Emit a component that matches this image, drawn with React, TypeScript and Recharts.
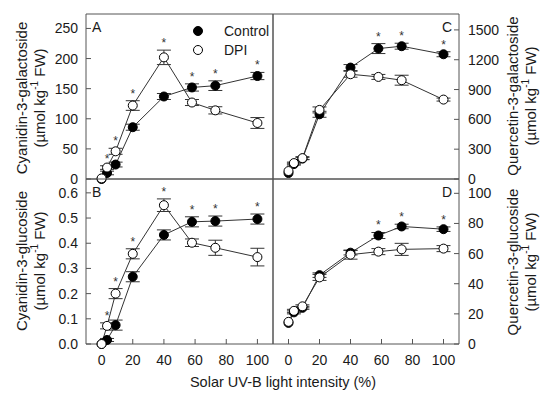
import {
  ComposedChart,
  Line,
  Scatter,
  XAxis,
  YAxis,
  ErrorBar,
  ReferenceArea,
  Legend,
} from "recharts";

// UV-B levels (% of solar)
const uvLevels = [0, 3.5, 9, 20, 40, 58, 73, 100];
const xTicks = [0, 20, 40, 60, 80, 100];

// A: cyanidin-3-galactoside
const cyaGalControl = [0, 10, 24, 86, 137, 152, 155, 171];
const cyaGalControlErr = [0, 3, 4, 5, 5, 6, 8, 6];
const cyaGalDpi = [1, 19, 46, 122, 202, 127, 114, 93];
const cyaGalDpiErr = [0, 3, 5, 8, 12, 5, 6, 9];
const cyaGalSig = [1, 2, 3, 4, 5, 6, 7];
const cyaGalTicks = [0, 50, 100, 150, 200, 250];

// B: cyanidin-3-glucoside
const cyaGluControl = [0, 0.016, 0.075, 0.267, 0.433, 0.485, 0.488, 0.496];
const cyaGluControlErr = [0, 0.006, 0.02, 0.02, 0.02, 0.02, 0.02, 0.02];
const cyaGluDpi = [0, 0.072, 0.2, 0.358, 0.551, 0.402, 0.382, 0.345];
const cyaGluDpiErr = [0, 0.012, 0.02, 0.02, 0.025, 0.015, 0.03, 0.035];
const cyaGluSig = [1, 2, 3, 4, 5, 6, 7];
const cyaGluTicks = [0, 0.1, 0.2, 0.3, 0.4, 0.5, 0.6];

// C: quercetin-3-galactoside
const queGalControl = [60, 150, 205, 651, 1121, 1312, 1336, 1255];
const queGalControlErr = [0, 10, 10, 30, 30, 50, 30, 25];
const queGalDpi = [80, 160, 210, 695, 1054, 1027, 994, 799];
const queGalDpiErr = [0, 10, 15, 30, 30, 25, 50, 15];
const queGalSig = [5, 6, 7];
const queGalTicks = [0, 300, 600, 900, 1200, 1500];

// D: quercetin-3-glucoside
const queGluControl = [14, 21, 24, 45.7, 60.6, 72, 78, 76.2];
const queGluControlErr = [0, 1, 1, 1.5, 1.5, 2, 1.5, 1.5];
const queGluDpi = [14.7, 22, 25, 44.2, 59.3, 61.3, 62.8, 63.3];
const queGluDpiErr = [0, 1, 1, 2, 3, 2, 4, 2];
const queGluSig = [5, 6, 7];
const queGluTicks = [0, 20, 40, 60, 80, 100];

const FONT = "'Liberation Sans', Arial, Helvetica, sans-serif";
const FRAME = "#555";
const LINE = "#333";
const TEXT = "#1a1a1a";

const buildRows = (c: number[], ce: number[], d: number[], de: number[]) =>
  uvLevels.map((x, i) => ({
    x,
    control: c[i],
    controlErr: ce[i],
    dpi: d[i],
    dpiErr: de[i],
  }));

const buildStars = (
  sig: number[],
  c: number[],
  ce: number[],
  d: number[],
  de: number[]
) => sig.map((i) => ({ x: uvLevels[i], y: Math.max(c[i] + ce[i], d[i] + de[i]) }));

const Star = (props: any) => (
  <text
    x={props.cx}
    y={props.cy - 3}
    textAnchor="middle"
    fontSize={12}
    fontFamily={FONT}
    fill={LINE}
  >
    *
  </text>
);

const filledDot = { r: 4.5, fill: "#000", stroke: "#000", strokeWidth: 1 };
const openDot = { r: 4.5, fill: "#fff", stroke: "#000", strokeWidth: 1 };

const yTitle = (cx: number, cy: number, name: string) => () =>
  (
    <g fontFamily={FONT} fontSize={15} fill={TEXT}>
      <text
        x={cx}
        y={cy}
        transform={`rotate(-90 ${cx} ${cy})`}
        textAnchor="middle"
        dominantBaseline="central"
      >
        {name}
      </text>
      <text
        x={cx + 18}
        y={cy}
        transform={`rotate(-90 ${cx + 18} ${cy})`}
        textAnchor="middle"
        dominantBaseline="central"
      >
        (µmol kg
        <tspan dy={-5} fontSize={10}>
          -1
        </tspan>
        <tspan dy={5}> FW)</tspan>
      </text>
    </g>
  );

const renderLegend = () => (
  <div style={{ fontFamily: FONT, fontSize: 14, color: TEXT }}>
    {[
      { name: "Control", dot: filledDot },
      { name: "DPI", dot: openDot },
    ].map((item) => (
      <div
        key={item.name}
        style={{ display: "flex", alignItems: "center", height: 19 }}
      >
        <svg width={12} height={12}>
          <circle cx={6} cy={6} {...item.dot} />
        </svg>
        <span style={{ marginLeft: 20 }}>{item.name}</span>
      </div>
    ))}
  </div>
);

interface PanelProps {
  rows: any[];
  stars: { x: number; y: number }[];
  yMax: number;
  yTicks: number[];
  side: "left" | "right";
  top: boolean;
  letter: string;
  title: string;
  titleCy: number;
  fmt?: (v: number) => string;
  legend?: boolean;
}

const Panel = ({
  rows,
  stars,
  yMax,
  yTicks,
  side,
  top,
  letter,
  title,
  titleCy,
  fmt,
  legend,
}: PanelProps) => {
  const margin = {
    top: top ? 14 : 179,
    bottom: top ? 189 : 24,
    left: side === "left" ? 46 : 273,
    right: side === "left" ? 277 : 51,
  };
  const letterProps =
    side === "left"
      ? { x: 92, textAnchor: "start" as const }
      : { x: 452, textAnchor: "end" as const };
  return (
    <div style={{ position: "absolute", left: 0, top: 0 }}>
      <ComposedChart width={550} height={398} data={rows} margin={margin}>
        <ReferenceArea
          x1={-10}
          x2={110}
          y1={0}
          y2={yMax}
          fill="none"
          stroke={FRAME}
          strokeWidth={1}
          ifOverflow="visible"
          label={() => (
            <text
              {...letterProps}
              y={top ? 32 : 197}
              fontFamily={FONT}
              fontSize={14}
              fill={TEXT}
            >
              {letter}
            </text>
          )}
        />
        <XAxis
          dataKey="x"
          type="number"
          domain={[-10, 110]}
          ticks={xTicks}
          height={30}
          axisLine={false}
          tickSize={-5}
          tickMargin={16}
          tickLine={{ stroke: FRAME }}
          tick={top ? false : { fill: TEXT, fontSize: 14, fontFamily: FONT }}
          label={
            !top && side === "left"
              ? () => (
                  <text
                    x={283}
                    y={387}
                    textAnchor="middle"
                    fontFamily={FONT}
                    fontSize={14.5}
                    fill={TEXT}
                  >
                    Solar UV-B light intensity (%)
                  </text>
                )
              : undefined
          }
        />
        <YAxis
          type="number"
          orientation={side}
          width={40}
          domain={[0, yMax]}
          ticks={yTicks}
          axisLine={false}
          tickSize={-5}
          tickMargin={side === "left" ? 13 : 14}
          tickLine={{ stroke: FRAME }}
          tick={{ fill: TEXT, fontSize: 14, fontFamily: FONT }}
          tickFormatter={fmt}
          label={yTitle(side === "left" ? 21 : 512, titleCy, title)}
        />
        <Line
          dataKey="control"
          type="linear"
          stroke={LINE}
          strokeWidth={1}
          dot={filledDot}
          activeDot={false}
          isAnimationActive={false}
        >
          <ErrorBar dataKey="controlErr" width={7} stroke={LINE} strokeWidth={1} direction="y" />
        </Line>
        <Line
          dataKey="dpi"
          type="linear"
          stroke={LINE}
          strokeWidth={1}
          dot={openDot}
          activeDot={false}
          isAnimationActive={false}
        >
          <ErrorBar dataKey="dpiErr" width={7} stroke={LINE} strokeWidth={1} direction="y" />
        </Line>
        <Scatter
          data={stars}
          dataKey="y"
          shape={Star}
          isAnimationActive={false}
        />
        {legend && (
          <Legend
            layout="vertical"
            align="center"
            verticalAlign="middle"
            content={renderLegend}
            wrapperStyle={{ left: 192, top: 21.5, width: 100, height: 40 }}
          />
        )}
      </ComposedChart>
    </div>
  );
};

const App = () => {
  return (
    <div
      style={{
        position: "absolute",
        left: 0,
        top: 0,
        width: 550,
        height: 398,
        background: "#fff",
      }}
    >
      <Panel
        rows={buildRows(cyaGalControl, cyaGalControlErr, cyaGalDpi, cyaGalDpiErr)}
        stars={buildStars(cyaGalSig, cyaGalControl, cyaGalControlErr, cyaGalDpi, cyaGalDpiErr)}
        yMax={274}
        yTicks={cyaGalTicks}
        side="left"
        top
        letter="A"
        title="Cyanidin-3-galactoside"
        titleCy={98}
        legend
      />
      <Panel
        rows={buildRows(cyaGluControl, cyaGluControlErr, cyaGluDpi, cyaGluDpiErr)}
        stars={buildStars(cyaGluSig, cyaGluControl, cyaGluControlErr, cyaGluDpi, cyaGluDpiErr)}
        yMax={0.655}
        yTicks={cyaGluTicks}
        side="left"
        top={false}
        letter="B"
        title="Cyanidin-3-glucoside"
        titleCy={261}
        fmt={(v) => v.toFixed(1)}
      />
      <Panel
        rows={buildRows(queGalControl, queGalControlErr, queGalDpi, queGalDpiErr)}
        stars={buildStars(queGalSig, queGalControl, queGalControlErr, queGalDpi, queGalDpiErr)}
        yMax={1660}
        yTicks={queGalTicks}
        side="right"
        top
        letter="C"
        title="Quercetin-3-galactoside"
        titleCy={96}
      />
      <Panel
        rows={buildRows(queGluControl, queGluControlErr, queGluDpi, queGluDpiErr)}
        stars={buildStars(queGluSig, queGluControl, queGluControlErr, queGluDpi, queGluDpiErr)}
        yMax={109.5}
        yTicks={queGluTicks}
        side="right"
        top={false}
        letter="D"
        title="Quercetin-3-glucoside"
        titleCy={262}
      />
    </div>
  );
};

export default App;
